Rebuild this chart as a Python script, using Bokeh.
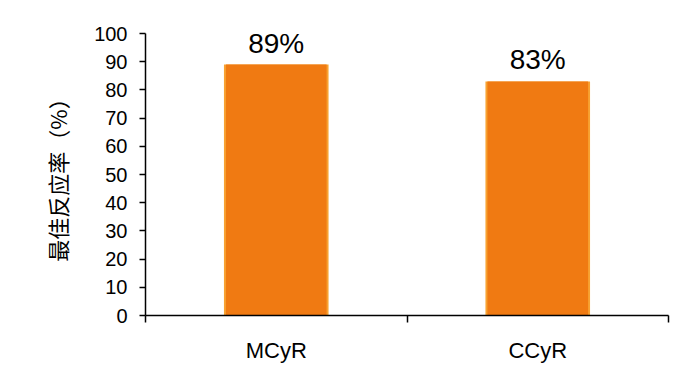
from bokeh.plotting import figure
from bokeh.models import ColumnDataSource, FixedTicker, Range1d
from bokeh.core.properties import value
from bokeh.embed import file_html
from bokeh.resources import INLINE

categories = ["MCyR", "CCyR"]
rates = [89, 83]
rate_labels = ["89%", "83%"]
y_ticks = [0, 10, 20, 30, 40, 50, 60, 70, 80, 90, 100]

xs = [i + 0.5 for i in range(len(categories))]
src = ColumnDataSource(dict(x=xs, top=rates, lab=rate_labels, cat=categories))

p = figure(width=686, height=365, output_backend="svg", toolbar_location=None,
           x_range=Range1d(0, len(categories)), y_range=Range1d(0, 100),
           min_border_left=145, min_border_right=18, min_border_top=33, min_border_bottom=50)
p.outline_line_color = None
p.grid.visible = False
p.background_fill_color = "white"

# bars with a soft bevel look
p.vbar(x="x", top="top", bottom=0, width=0.40, source=src,
       fill_color="#F8A232", line_color=None)
p.vbar(x="x", top="top", bottom=0, width=0.385, source=src,
       fill_color="#F07A12", line_color=None)

p.text(x="x", y="top", text="lab", source=src, text_align="center",
       text_baseline="bottom", y_offset=-6, text_font_size="28px",
       text_font=value("Liberation Sans"), text_color="black")

# y axis
ya = p.yaxis[0]
ya.ticker = FixedTicker(ticks=y_ticks)
ya.axis_label = "最佳反应率（%）"
ya.axis_label_text_font = "Noto Sans CJK SC"
ya.axis_label_text_font_style = "normal"
ya.axis_label_text_font_size = "22px"
ya.axis_label_text_color = "black"
ya.axis_label_standoff = 18
ya.major_label_text_font = "Liberation Sans"
ya.major_label_text_font_size = "20px"
ya.major_label_text_color = "black"
ya.major_label_standoff = 12
ya.major_tick_in = 0
ya.major_tick_out = 6
ya.minor_tick_line_color = None
ya.axis_line_width = 1.5
ya.major_tick_line_width = 1.5
ya.axis_line_color = "black"

# x axis: labels at category centres, ticks (minor) at category boundaries
xa = p.xaxis[0]
xa.ticker = FixedTicker(ticks=xs, minor_ticks=list(range(len(categories) + 1)))
xa.major_label_overrides = {x: c for x, c in zip(xs, categories)}
xa.major_tick_line_color = None
xa.major_tick_in = 0
xa.major_tick_out = 0
xa.minor_tick_in = 0
xa.minor_tick_out = 7
xa.minor_tick_line_color = "black"
xa.minor_tick_line_width = 1.5
xa.axis_line_width = 1.5
xa.axis_line_color = "black"
xa.major_label_text_font = "Liberation Sans"
xa.major_label_text_font_size = "22px"
xa.major_label_text_color = "black"
xa.major_label_standoff = 15

open("out.html", "w").write(file_html(p, INLINE))
